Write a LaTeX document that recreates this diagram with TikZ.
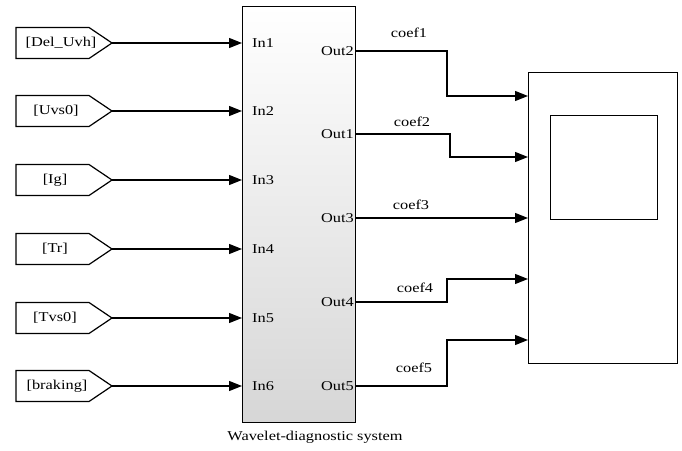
\documentclass[tikz,border=0pt]{standalone}
\usepackage{fontspec}
\setmainfont[FakeStretch=1.21]{Liberation Serif}
\usetikzlibrary{arrows.meta}
\tikzset{
  wire/.style={line width=1.3pt},
  sig/.style={wire,-{Triangle[length=13pt,width=10pt]}},
  tagbox/.style={line width=1.2pt},
  lbl/.style={inner sep=0pt,font=\fontsize{13.5}{16}\selectfont},
}
\begin{document}
\begin{tikzpicture}[x=1pt,y=-1pt]
\useasboundingbox (0,0) rectangle (682,450);
% main subsystem block
\node[draw,line width=1.3pt,top color=white,bottom color=black!16,
      minimum width=113pt,minimum height=416pt,inner sep=0pt,anchor=north west] (sys) at (242,6) {};
\node[lbl] (cap) at (315,437) {Wavelet-diagnostic system};
% goto tags and inputs
\foreach \i/\t/\y/\x in {1/{[Del\_Uvh]}/43/61,2/{[Uvs0]}/111/56,3/{[Ig]}/180/55,4/{[Tr]}/249/55,5/{[Tvs0]}/318/55,6/{[braking]}/386/57}{
  \draw[tagbox] (16,\y-15.5) -- (89,\y-15.5) -- (112,\y) -- (89,\y+15.5) -- (16,\y+15.5) -- cycle;
  \coordinate (tag\i) at (112,\y);
  \node[lbl] (tagtxt\i) at (\x,\y) {\t};
  \coordinate (in\i) at (242,\y);
  \node[lbl,anchor=west] (inl\i) at (252,\y) {In\i};
  \draw[sig] (tag\i) -- (in\i);
}
% outputs
\foreach \n/\y in {o2/51,o1/134,o3/218,o4/302,o5/386}{
  \coordinate (\n) at (355,\y);
}
\node[lbl,anchor=east] (ol2) at (354,51) {Out2};
\node[lbl,anchor=east] (ol1) at (354,134) {Out1};
\node[lbl,anchor=east] (ol3) at (354,218) {Out3};
\node[lbl,anchor=east] (ol4) at (354,302) {Out4};
\node[lbl,anchor=east] (ol5) at (354,386) {Out5};
% scope
\node[draw,line width=1.3pt,minimum width=149pt,minimum height=291pt,inner sep=0pt,anchor=north west] (scope) at (528,72) {};
\node[draw,line width=1.3pt,minimum width=107pt,minimum height=104pt,inner sep=0pt,anchor=north west] (screen) at (550,115) {};
\foreach \n/\y in {s1/96,s2/157,s3/218,s4/279,s5/340}{
  \coordinate (\n) at (528,\y);
}
\draw[sig] (o2) -- (447,51) -- (447,96) -- (s1);
\draw[sig] (o1) -- (450,134) -- (450,157) -- (s2);
\draw[sig] (o3) -- (s3);
\draw[sig] (o4) -- (447,302) -- (447,279) -- (s4);
\draw[sig] (o5) -- (447,386) -- (447,340) -- (s5);
\node[lbl] (c1) at (409,33) {coef1};
\node[lbl] (c2) at (412,122) {coef2};
\node[lbl] (c3) at (411,205) {coef3};
\node[lbl] (c4) at (415,288) {coef4};
\node[lbl] (c5) at (414,368) {coef5};
\end{tikzpicture}
\end{document}
